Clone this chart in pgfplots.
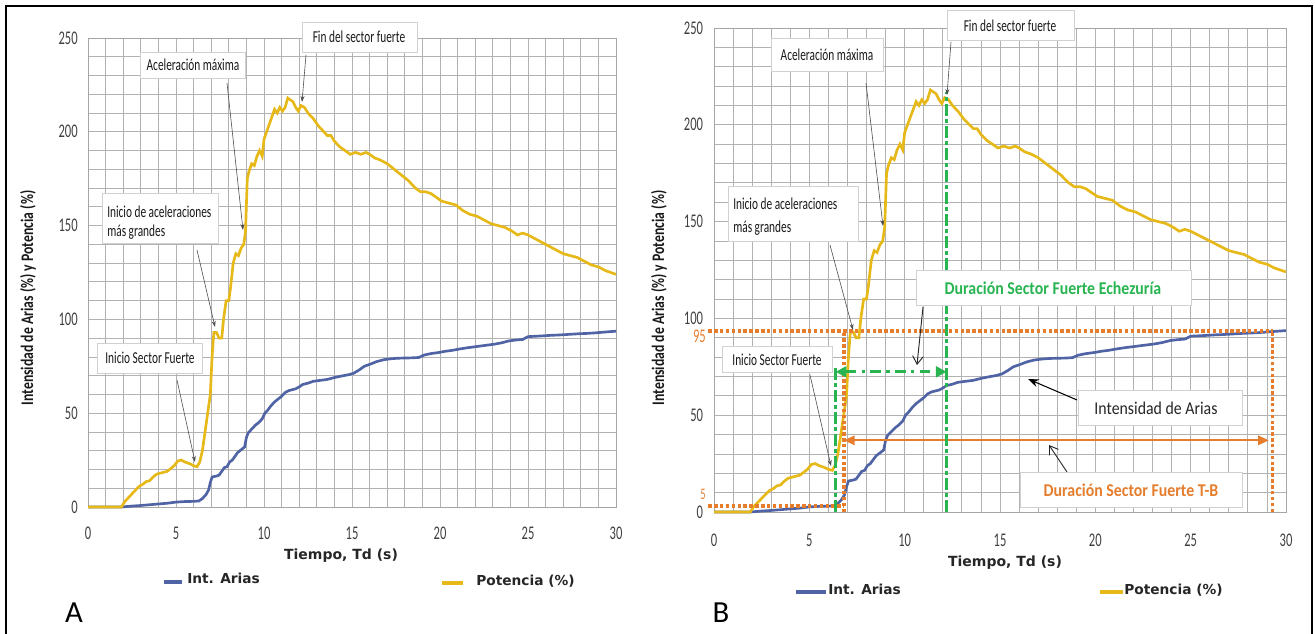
\documentclass[border=0pt]{standalone}
\usepackage{fontspec}
\usepackage{pgfplots}
\usepackage{pgfplotstable}
\pgfplotsset{compat=1.18}
\usetikzlibrary{arrows.meta}
\setmainfont{Carlito}
\newfontfamily\tickf[FakeStretch=0.65]{Carlito}
\newfontfamily\callf[FakeStretch=0.68]{Carlito}
\newfontfamily\ylabf[FakeStretch=0.78]{Carlito}
\newfontfamily\annf[FakeStretch=0.88]{Carlito}
\newfontfamily\verd[FakeStretch=1.0]{DejaVu Sans}
\definecolor{ariasblue}{RGB}{80,100,165}
\definecolor{potyel}{RGB}{230,185,25}
\definecolor{orC}{RGB}{230,125,45}
\definecolor{grC}{RGB}{40,180,80}

\pgfplotstableread{
t p
0 0
1.9 0
2.1 3
2.4 6
2.7 9
2.9 11
3.1 12
3.3 13.5
3.5 14
3.7 16
3.9 17.5
4.1 18
4.3 18.5
4.5 19
4.7 20.5
4.9 22
5.1 24.5
5.3 25
5.5 24
5.8 23
6.0 22
6.2 21.5
6.35 24
6.5 30
6.65 40
6.8 50
6.95 60
7.05 80
7.15 93
7.3 93
7.45 90
7.6 90
7.7 100
7.85 110
8.0 110
8.1 117
8.25 130
8.4 135
8.55 134
8.7 138
8.85 140
8.95 147
9.05 175
9.15 179
9.3 183
9.45 182
9.6 187
9.75 190
9.9 187
10.0 196
10.15 200
10.3 204
10.45 208
10.6 212
10.75 210
10.9 213
11.05 211
11.2 213
11.35 218
11.5 217
11.65 216
11.8 213
11.95 211
12.1 214
12.3 213
12.5 210
12.8 207
13.1 203
13.4 200
13.6 198
13.8 198
14.0 195
14.3 192
14.6 190
14.9 188
15.2 189
15.5 188
15.8 189
16.0 188
16.3 186
16.6 185
17.0 183
17.4 180
17.8 177
18.2 174
18.6 170
18.9 168
19.2 168
19.5 167
19.8 165
20.1 163
20.5 162
20.9 161
21.3 158
21.7 156
22.1 155
22.5 153
22.9 151
23.3 150
23.7 149
24.1 147
24.4 145
24.7 146
25.0 145
25.4 143
25.8 141
26.2 139
26.6 137
27.0 135
27.4 134
27.8 133
28.2 131
28.6 129
29.0 128
29.4 126
29.7 125
30.0 124
}\potdata

\pgfplotstableread{
t a
0 0
1.9 0
2.5 0.5
3.0 0.8
3.5 1.2
4.0 1.6
4.5 2.0
5.0 2.6
5.5 2.9
6.0 3.0
6.3 3.2
6.5 4.5
6.7 6.5
6.85 9
6.95 13
7.05 16
7.3 16.5
7.45 17
7.6 19
7.75 21
7.9 21.5
8.05 24
8.2 25
8.35 27
8.5 29
8.7 30.5
8.9 32
9.0 37
9.1 39.5
9.3 41.5
9.5 43.5
9.7 45
9.9 47
10.05 50
10.2 51.5
10.4 54
10.6 56
10.8 57.5
11.0 59
11.2 61
11.4 62
11.6 62.5
11.8 63
12.0 64
12.2 65.3
12.5 66
12.8 67
13.2 67.5
13.6 68
14.0 69
14.4 69.8
14.8 70.5
15.1 71.3
15.4 73
15.7 75
16.0 76
16.4 77.5
16.8 78.5
17.2 79
17.6 79.3
18.0 79.4
18.4 79.5
18.8 79.7
19.1 81
19.5 81.8
19.9 82.3
20.3 83
20.7 83.5
21.1 84.2
21.5 84.8
21.9 85.3
22.3 85.8
22.7 86.3
23.1 86.8
23.5 87.5
23.9 88.5
24.3 89
24.7 89.3
25.0 90.8
25.4 91
25.8 91.2
26.3 91.5
26.8 91.7
27.3 92
27.8 92.3
28.3 92.5
28.8 92.8
29.3 93.2
29.7 93.5
30.0 93.7
}\ariasdata

\pgfplotsset{
  panel/.style={
    scale only axis, anchor=south west,
    xmin=0, xmax=30, ymin=0, ymax=250,
    xtick={0,5,...,30}, ytick={0,50,...,250},
    minor x tick num=4, minor y tick num=4,
    grid=both,
    major grid style={draw=black!30, line width=0.6pt},
    minor grid style={draw=black!30, line width=0.6pt},
    major tick length=0pt, minor tick length=0pt,
    axis line style={draw=black!35, line width=0.6pt},
    /pgf/number format/assume math mode=true,
    tick label style={font=\tickf\fontsize{14.5}{14.5}\selectfont, text=black!75},
    yticklabel style={anchor=east, inner sep=0pt, xshift=-7.5pt},
    clip=false,
  },
  arias/.style={no marks, ariasblue, line width=2pt},
  pot/.style={no marks, potyel, line width=2pt},
  odot/.style={no marks, orC, line width=2.6pt, dash pattern=on 2.6pt off 1.8pt},
  gdd/.style={no marks, grC, line width=2.6pt, dash pattern=on 9pt off 2.5pt on 2.5pt off 2.5pt},
}

\begin{document}
\begin{tikzpicture}
\path[use as bounding box] (0,0) rectangle (986.25pt,475.5pt);

% ---------- Panel A ----------
\begin{axis}[panel, at={(66pt,95.25pt)}, width=396pt, height=351.75pt,
  xticklabel style={anchor=north, inner sep=0pt, yshift=-15pt}]
\addplot[arias] table[x=t,y=a]{\ariasdata};
\addplot[pot] table[x=t,y=p]{\potdata};
\end{axis}

% ---------- Panel B ----------
\begin{axis}[panel, at={(535.5pt,91.5pt)}, width=429pt, height=363pt,
  xticklabel style={anchor=north, inner sep=0pt, yshift=-16.5pt},
  yticklabel style={xshift=-0.5pt}]
\addplot[arias] table[x=t,y=a]{\ariasdata};
\addplot[pot] table[x=t,y=p]{\potdata};
\addplot[odot] coordinates {(-0.3,93.5) (29.3,93.5)};
\addplot[odot] coordinates {(-0.3,3) (6.82,3)};
\addplot[odot] coordinates {(6.82,0) (6.82,93.5)};
\addplot[odot] coordinates {(29.3,0) (29.3,93.5)};
\addplot[no marks, orC, line width=1.6pt, {Triangle[length=8pt,width=7pt]}-{Triangle[length=8pt,width=7pt]}] coordinates {(6.82,37) (29.1,37)};
\addplot[gdd] coordinates {(6.38,0) (6.38,75)};
\addplot[gdd] coordinates {(12.2,0) (12.2,217)};
\addplot[no marks, grC, line width=2.2pt, dash pattern=on 8pt off 4pt on 2.5pt off 4pt, {Triangle[length=8pt,width=8pt]}-{Triangle[length=8pt,width=8pt]}] coordinates {(6.38,72.4) (12.2,72.4)};
\end{axis}

\begin{scope}[x=0.75pt, y=-0.75pt, shift={(0pt,475.5pt)},
  boxst/.style={fill=white, draw=black!18, line width=0.5pt},
  callt/.style={font=\callf\fontsize{12.5}{12.5}\selectfont, text=black!90, inner sep=0pt},
  carr/.style={draw=black!70, line width=0.45pt, -{Stealth[length=4.5pt,width=3pt]}},
  legt/.style={font=\verd\bfseries\fontsize{10.3}{10.3}\selectfont, text=black!85, inner sep=0pt, anchor=west},
  ylab/.style={rotate=90, font=\ylabf\bfseries\fontsize{13.2}{13.2}\selectfont, text=black!90},
  xlab/.style={font=\verd\bfseries\fontsize{10.5}{10.5}\selectfont, text=black!85}]

% frame
\draw[line width=1.6pt] (6,640) -- (6,6) -- (1312,6) -- (1312,640);

% axis titles
\node[ylab] at (28,298) {Intensidad de Arias (\%) y Potencia (\%)};
\node[ylab] at (659,298) {Intensidad de Arias (\%) y Potencia (\%)};
\node[xlab] at (341,556) {Tiempo, Td (s)};
\node[xlab] at (1005,563) {Tiempo, Td (s)};

% legends
\draw[ariasblue, line width=2.5pt] (164,582) -- (182,582);
\node[legt] at (187,578) {Int. Arias};
\draw[potyel, line width=2.5pt] (442,583) -- (463,583);
\node[legt] at (476,581) {Potencia (\%)};
\draw[ariasblue, line width=2.5pt] (796,592) -- (826,592);
\node[legt] at (828,589) {Int. Arias};
\draw[potyel, line width=2.5pt] (1100,592) -- (1123,592);
\node[legt] at (1124,590) {Potencia (\%)};

% panel letters
\node[font=\fontsize{23}{23}\selectfont] at (74,613) {A};
\node[font=\fontsize{23}{23}\selectfont] at (721,613) {B};

% orange tick labels in B
\node[orC, font=\tickf\fontsize{14.5}{14.5}\selectfont, anchor=east, inner sep=0pt] at (706,336) {95};
\node[orC, font=\tickf\fontsize{12}{12}\selectfont, anchor=east, inner sep=0pt] at (706,494) {5};

% callouts A
\filldraw[boxst] (302,22) rectangle (417,52);
\node[callt] at (359,37) {Fin del sector fuerte};
\draw[carr] (306,55) -- (302,102);
\filldraw[boxst] (140,52) rectangle (245,78);
\node[callt] at (193,65) {Aceleración máxima};
\draw[carr] (227,83) -- (243,230);
\filldraw[boxst] (102,193) rectangle (218,243);
\node[callt, anchor=west] at (107,212) {Inicio de aceleraciones};
\node[callt, anchor=west] at (107,232) {más grandes};
\draw[carr] (197,250) -- (215,327);
\filldraw[boxst] (97,343) rectangle (202,373);
\node[callt] at (150,358) {Inicio Sector Fuerte};
\draw[carr] (177,380) -- (195,462);

% callouts B
\filldraw[boxst] (947,10) rectangle (1074,40);
\node[callt] at (1010,26) {Fin del sector fuerte};
\draw[carr] (951,42) -- (947,95);
\filldraw[boxst] (771,38) rectangle (883,71);
\node[callt] at (827,55) {Aceleración máxima};
\draw[carr] (866,83) -- (883,226);
\filldraw[boxst] (728,186) rectangle (858,241);
\node[callt, anchor=west] at (733,204) {Inicio de aceleraciones};
\node[callt, anchor=west] at (733,228) {más grandes};
\draw[carr] (830,245) -- (853,330);
\filldraw[boxst] (722,346) rectangle (832,372);
\node[callt] at (777,360) {Inicio Sector Fuerte};
\draw[carr] (810,375) -- (831,466);

\filldraw[boxst] (916,270) rectangle (1191,305);
\node[font=\annf\bfseries\fontsize{13.5}{13.5}\selectfont, text=grC, inner sep=0pt] at (1053,288) {Duración Sector Fuerte Echezuría};
\draw[black!85, line width=0.7pt, -{Straight Barb[length=6pt,width=8pt]}] (923,307) -- (917,365);

\filldraw[boxst] (1078,390) rectangle (1242,425);
\node[font=\annf\fontsize{13.5}{13.5}\selectfont, text=black!85, inner sep=0pt] at (1156,408) {Intensidad de Arias};
\draw[black, line width=0.8pt, -{Stealth[length=8pt,width=6pt]}] (1077,400) -- (1028,379);

\filldraw[boxst] (1020,472) rectangle (1242,507);
\node[font=\annf\bfseries\fontsize{13.5}{13.5}\selectfont, text=orC, inner sep=0pt] at (1131,490) {Duración Sector Fuerte T-B};
\draw[black!85, line width=0.7pt, -{Straight Barb[length=6pt,width=8pt]}] (1067,472) -- (1049,445);
\end{scope}
\end{tikzpicture}
\end{document}
